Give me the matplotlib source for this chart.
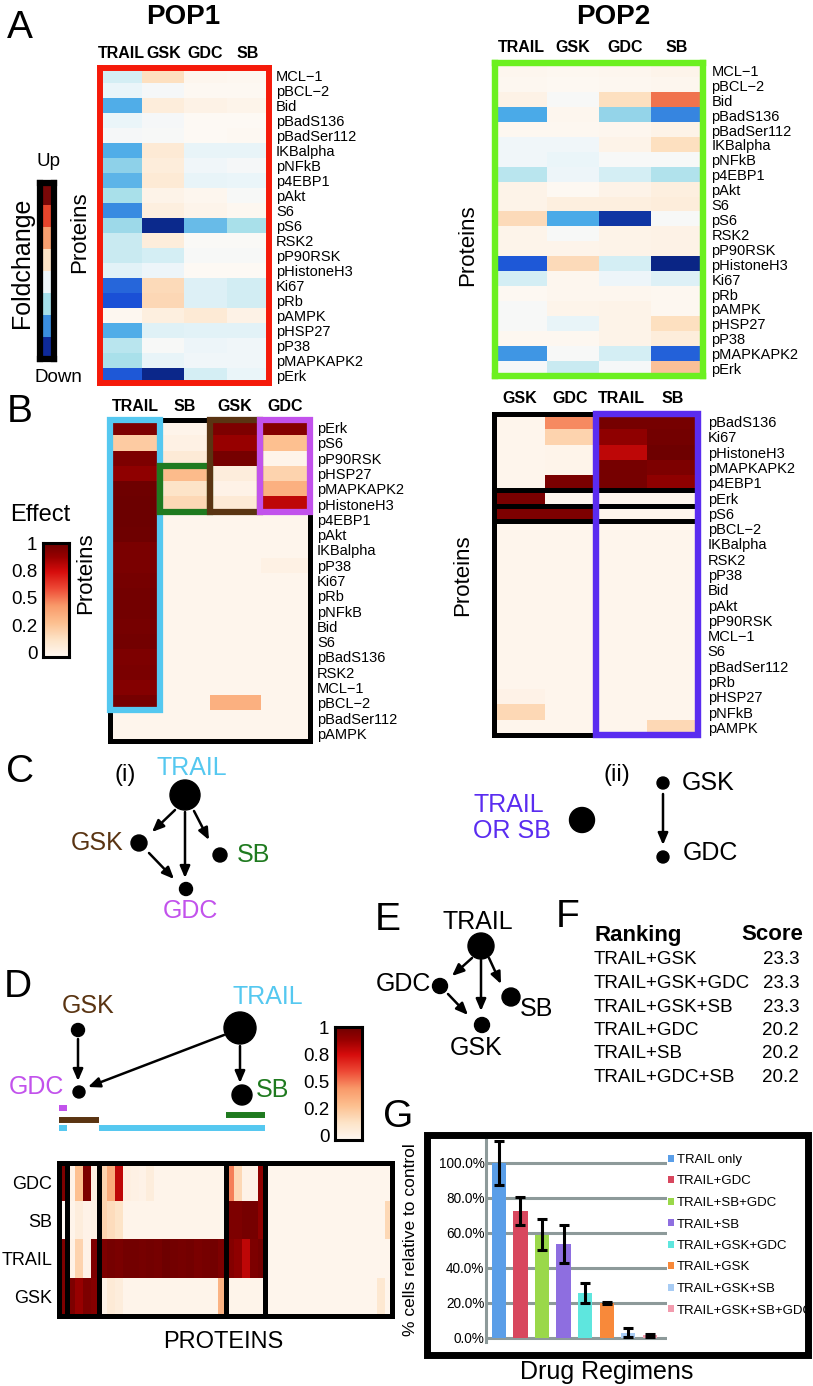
import numpy as np
import matplotlib
matplotlib.use("Agg")
import matplotlib.pyplot as plt
from matplotlib import font_manager as fm
from matplotlib.colors import LinearSegmentedColormap, ListedColormap
from matplotlib.patches import Rectangle, Circle

# ---------------- data ----------------
drugs_a = ["TRAIL", "GSK", "GDC", "SB"]
proteins_a = ["MCL\u22121", "pBCL\u22122", "Bid", "pBadS136", "pBadSer112", "IKBalpha",
              "pNFkB", "p4EBP1", "pAkt", "S6", "pS6", "RSK2", "pP90RSK", "pHistoneH3",
              "Ki67", "pRb", "pAMPK", "pHSP27", "pP38", "pMAPKAPK2", "pErk"]

fold_pop1 = [[-0.12, 0.20, 0.03, 0.02], [-0.06, -0.03, 0.01, 0.01], [-0.48, 0.10, 0.06, 0.04],
             [-0.06, -0.03, 0.00, 0.00], [-0.03, -0.02, 0.00, 0.01], [-0.48, 0.12, -0.07, -0.07],
             [-0.32, 0.10, -0.04, -0.03], [-0.45, 0.12, -0.07, -0.06], [-0.25, 0.05, 0.03, -0.02],
             [-0.58, 0.08, 0.04, 0.02], [-0.28, -0.97, -0.42, -0.25], [-0.15, 0.10, -0.01, -0.01],
             [-0.15, -0.12, -0.02, -0.02], [-0.08, -0.05, 0.00, 0.00], [-0.68, 0.22, -0.10, -0.13],
             [-0.75, 0.24, -0.10, -0.13], [0.02, 0.08, 0.12, 0.06], [-0.48, -0.09, -0.08, -0.08],
             [-0.20, -0.02, -0.05, -0.04], [-0.25, -0.07, -0.04, -0.04], [-0.72, -0.98, -0.12, -0.06]]

fold_pop2 = [[0.03, 0.02, 0.03, 0.04], [0.02, 0.01, 0.02, 0.03], [0.06, -0.02, 0.20, 0.62],
             [-0.50, 0.03, -0.30, -0.60], [0.02, 0.02, 0.03, 0.05], [-0.04, -0.04, 0.05, 0.20],
             [-0.04, -0.06, -0.02, -0.02], [-0.20, -0.05, -0.12, -0.22], [0.05, 0.01, 0.05, 0.08],
             [0.05, 0.08, 0.08, 0.10], [0.22, -0.50, -0.90, -0.02], [0.04, -0.02, 0.05, 0.06],
             [0.04, 0.04, 0.05, 0.06], [-0.72, 0.22, -0.12, -1.00], [-0.12, 0.03, -0.05, -0.10],
             [0.01, 0.03, 0.03, 0.02], [-0.02, 0.04, 0.05, 0.02], [-0.02, -0.07, 0.05, 0.20],
             [0.02, 0.02, 0.05, 0.10], [-0.55, -0.02, -0.12, -0.70], [-0.03, -0.15, -0.03, 0.35]]

drugs_b1 = ["TRAIL", "SB", "GSK", "GDC"]
proteins_b1 = ["pErk", "pS6", "pP90RSK", "pHSP27", "pMAPKAPK2", "pHistoneH3", "p4EBP1", "pAkt",
               "IKBalpha", "pP38", "Ki67", "pRb", "pNFkB", "Bid", "S6", "pBadS136", "RSK2",
               "MCL\u22121", "pBCL\u22122", "pBadSer112", "pAMPK"]
effect_pop1 = [[0.95, 0.03, 0.95, 0.93], [0.25, 0.05, 0.88, 0.30], [0.95, 0.10, 0.97, 0.03],
               [0.90, 0.32, 0.08, 0.22], [0.99, 0.15, 0.04, 0.36], [1.00, 0.20, 0.10, 0.80],
               [1.00, 0.02, 0.02, 0.02], [0.99, 0.02, 0.02, 0.02], [0.96, 0.02, 0.02, 0.02],
               [0.96, 0.02, 0.02, 0.05], [0.97, 0.02, 0.02, 0.02], [0.98, 0.02, 0.02, 0.02],
               [0.98, 0.02, 0.02, 0.02], [0.97, 0.02, 0.02, 0.02], [0.98, 0.02, 0.02, 0.02],
               [0.95, 0.02, 0.02, 0.02], [0.96, 0.02, 0.02, 0.02], [0.93, 0.02, 0.02, 0.02],
               [0.97, 0.02, 0.36, 0.02], [0.02, 0.02, 0.02, 0.02], [0.02, 0.02, 0.02, 0.02]]

drugs_b2 = ["GSK", "GDC", "TRAIL", "SB"]
proteins_b2 = ["pBadS136", "Ki67", "pHistoneH3", "pMAPKAPK2", "p4EBP1", "pErk", "pS6",
               "pBCL\u22122", "IKBalpha", "RSK2", "pP38", "Bid", "pAkt", "pP90RSK", "MCL\u22121",
               "S6", "pBadSer112", "pRb", "pHSP27", "pNFkB", "pAMPK"]
effect_pop2 = [[0.02, 0.48, 0.97, 0.97], [0.02, 0.22, 0.90, 0.98], [0.02, 0.03, 0.80, 0.99],
               [0.02, 0.03, 0.97, 0.95], [0.02, 0.96, 0.97, 0.90], [0.96, 0.02, 0.02, 0.02],
               [0.95, 0.95, 0.02, 0.02], [0.02, 0.02, 0.02, 0.02], [0.02, 0.02, 0.02, 0.02],
               [0.02, 0.02, 0.02, 0.02], [0.02, 0.02, 0.02, 0.02], [0.02, 0.02, 0.02, 0.02],
               [0.02, 0.02, 0.02, 0.02], [0.02, 0.02, 0.02, 0.02], [0.02, 0.02, 0.02, 0.02],
               [0.02, 0.02, 0.02, 0.02], [0.02, 0.02, 0.02, 0.02], [0.02, 0.02, 0.02, 0.02],
               [0.04, 0.02, 0.02, 0.02], [0.20, 0.02, 0.02, 0.02], [0.02, 0.02, 0.02, 0.20]]

# panel D: 42 protein columns, split in blocks
drugs_d = ["GDC", "SB", "TRAIL", "GSK"]
effect_d_gdc = ([0.95] + [0.04, 0.30, 0.95, 0.05]
                + [0.22, 0.38, 0.80, 0.06, 0.05, 0.04, 0.08, 0.03, 0.03, 0.03, 0.03, 0.03, 0.03, 0.03, 0.03, 0.03]
                + [0.50, 0.20, 0.04, 0.04, 0.90] + [0.02] * 16)
effect_d_sb = ([0.0] + [0.03, 0.08, 0.04, 0.05]
               + [0.22, 0.18, 0.15] + [0.03] * 13
               + [0.95, 0.95, 0.97, 0.97, 0.90] + [0.02] * 15 + [0.20])
effect_d_trail = ([0.95] + [0.04, 0.22, 0.04, 0.95]
                  + [0.95, 0.97, 0.96, 0.98, 0.98, 0.97, 0.98, 0.97, 0.99, 0.98, 0.97, 0.98, 0.96, 0.97, 0.98, 0.95]
                  + [0.93, 0.90, 0.80, 0.95, 0.97] + [0.02] * 16)
effect_d_gsk = ([0.95] + [0.95, 0.88, 0.95, 0.93]
                + [0.04, 0.10, 0.08] + [0.03] * 12 + [0.35]
                + [0.03] * 5 + [0.02] * 14 + [0.12, 0.02])
d_block_edges = [0.5, 4.5, 20.5, 25.5]
d_groups = [("GDC", [(0, 0)]), ("GSK", [(0, 4)]), ("SB", [(21, 25)]), ("TRAIL", [(0, 0), (5, 25)])]

effect_ticks = ["0", "0.2", "0.5", "0.8", "1"]

rank_combos = ["TRAIL+GSK", "TRAIL+GSK+GDC", "TRAIL+GSK+SB", "TRAIL+GDC", "TRAIL+SB", "TRAIL+GDC+SB"]
rank_scores = [23.3, 23.3, 23.3, 20.2, 20.2, 20.2]

regimens = ["TRAIL only", "TRAIL+GDC", "TRAIL+SB+GDC", "TRAIL+SB", "TRAIL+GSK+GDC",
            "TRAIL+GSK", "TRAIL+GSK+SB", "TRAIL+GSK+SB+GDC"]
pct_cells = [100, 72.6, 58.9, 53.7, 25.7, 20, 3, 1.5]
pct_err = [12.5, 8, 8.8, 11, 5.7, 0.8, 2.6, 1.0]

# ---------------- style ----------------
W, H = 813, 1386
plt.rcParams["font.family"] = ["Liberation Sans", "DejaVu Sans"]
_names = {f.name for f in fm.fontManager.ttflist}
if "Liberation Sans Narrow" in _names:
    NARROW, NS = ["Liberation Sans Narrow", "DejaVu Sans"], 1.2
else:
    NARROW, NS = ["Liberation Sans", "DejaVu Sans"], 1.0

CYAN, BROWN, GREEN, MAGENTA = "#55c8f0", "#5a3412", "#1f7a1f", "#c252ec"
PURPLE = "#5a2cf0"
fold_cmap = LinearSegmentedColormap.from_list(
    "fold", [(0.0, "#0a2585"), (0.125, "#1a50d6"), (0.25, "#4aaae8"), (0.375, "#a8e0ea"),
             (0.475, "#eef6fa"), (0.5, "#fefaf6"), (0.6, "#fde0c0"), (0.75, "#f8a070"),
             (0.875, "#e8452c"), (1.0, "#7a0808")])
fold_bins = ["#0e2a9a", "#3a8ee0", "#a5dfea", "#eef6fa", "#fde3c6", "#f8a070", "#e8452c", "#7a0808"]
effect_cmap = LinearSegmentedColormap.from_list(
    "effect", [(0.0, "#fff8f2"), (0.15, "#fde4c8"), (0.3, "#fdc090"), (0.45, "#f99a6a"),
               (0.6, "#ee4a36"), (0.75, "#d60c0c"), (0.88, "#980000"), (1.0, "#6c0000")])
bar_colors = ["#5a9ee8", "#d8475e", "#9ad84a", "#8e6ee0", "#5ee6de", "#f8893a", "#a8ccf4", "#f29cae"]

fig = plt.figure(figsize=(W / 100, H / 100), dpi=100)


def px_axes(x0, y0, x1, y1):
    return fig.add_axes([x0 / W, 1 - y1 / H, (x1 - x0) / W, (y1 - y0) / H])


ov = px_axes(0, 0, W, H)
ov.set_xlim(0, W)
ov.set_ylim(H, 0)
ov.axis("off")
ov.set_zorder(10)


def txt(x, y, s, size, **kw):
    kw.setdefault("ha", "center")
    kw.setdefault("va", "center")
    ov.text(x, y, s, fontsize=size, **kw)


def heatmap(box, vals, cmap, vmin, vmax, cols, rows, edge, lw, head_pad, lab_pad):
    ax = px_axes(*box)
    ax.imshow(np.array(vals), cmap=cmap, vmin=vmin, vmax=vmax, aspect="auto", interpolation="nearest")
    ax.set_xticks(range(len(cols)))
    ax.set_xticklabels(cols, fontsize=11.5 * NS, fontweight="bold", fontfamily=NARROW)
    ax.xaxis.tick_top()
    ax.set_yticks(range(len(rows)))
    ax.set_yticklabels(rows, fontsize=10.5 * NS, fontfamily=NARROW)
    ax.yaxis.tick_right()
    ax.tick_params(axis="x", length=0, pad=head_pad)
    ax.tick_params(axis="y", length=0, pad=lab_pad)
    for s in ax.spines.values():
        s.set_color(edge)
        s.set_linewidth(lw)
    return ax


def effect_bar(box):
    ax = px_axes(*box)
    ax.imshow(np.linspace(1, 0, 256)[:, None], cmap=effect_cmap, aspect="auto", extent=(0, 1, 0, 1))
    ax.set_xticks([])
    ax.set_yticks([0.04, 0.28, 0.52, 0.76, 1.0])
    ax.set_yticklabels(effect_ticks, fontsize=13.5)
    ax.tick_params(length=0, pad=4)
    for s in ax.spines.values():
        s.set_linewidth(2.2)
    return ax


def node(x, y, d):
    ov.add_patch(Circle((x, y), d / 2, color="k", zorder=5))


def arrow(p0, p1):
    ov.annotate("", xy=p1, xytext=p0, zorder=4,
                arrowprops=dict(arrowstyle="-|>,head_length=0.7,head_width=0.3",
                                color="k", lw=1.8, shrinkA=0, shrinkB=0))


# ---------------- panel A ----------------
heatmap((100, 68, 269, 383), fold_pop1, fold_cmap, -1, 1, drugs_a, proteins_a,
        "#f51a0a", 4.3, 5, 5)
heatmap((495, 63, 703, 376), fold_pop2, fold_cmap, -1, 1, drugs_a, proteins_a,
        "#6cf020", 4.6, 6, 6)

cb = px_axes(40, 183, 54, 359)
cb.imshow(np.arange(len(fold_bins))[::-1, None], cmap=ListedColormap(fold_bins), aspect="auto")
cb.set_xticks([])
cb.set_yticks([])
for s in cb.spines.values():
    s.set_linewidth(4.5)

txt(20, 28, "A", 28)
txt(183, 17, "POP1", 20, fontweight="bold")
txt(613, 17, "POP2", 20, fontweight="bold")
txt(48, 161, "Up", 13.5 * NS, fontfamily=NARROW)
txt(58, 378, "Down", 13.5 * NS, fontfamily=NARROW)
txt(22, 263, "Foldchange", 18, rotation=90)
txt(80, 232, "Proteins", 16, rotation=90)
txt(468, 245, "Proteins", 16, rotation=90)

# ---------------- panel B ----------------
ax_b1 = heatmap((110, 420, 310, 741), effect_pop1, effect_cmap, 0, 1, drugs_b1, proteins_b1,
                "k", 3.6, 4, 5)
for c0, c1, r0, r1, col in [(0, 0, 0, 18, CYAN), (1, 1, 3, 5, GREEN), (2, 2, 0, 5, BROWN), (3, 3, 0, 5, MAGENTA)]:
    ax_b1.add_patch(Rectangle((c0 - 0.5, r0 - 0.5), c1 - c0 + 1, r1 - r0 + 1, fill=False,
                              ec=col, lw=4.5, clip_on=False, zorder=5))

ax_b2 = heatmap((494, 414, 698, 735), effect_pop2, effect_cmap, 0, 1, drugs_b2, proteins_b2,
                "k", 3.6, 6, 7)
for yb in [4.5, 5.5, 6.5]:
    ax_b2.axhline(yb, color="k", lw=3.6, zorder=4)
ax_b2.add_patch(Rectangle((1.5, -0.5), 2, len(proteins_b2), fill=False, ec=PURPLE, lw=4.6,
                          clip_on=False, zorder=5))

effect_bar((43, 543, 69, 657))
txt(20, 412, "B", 28)
txt(40, 515, "Effect", 17)
txt(86, 573, "Proteins", 16, rotation=90)
txt(463, 575, "Proteins", 16, rotation=90)

# ---------------- panel C ----------------
txt(20, 772, "C", 28)
txt(125, 775, "(i)", 17)
txt(192, 768, "TRAIL", 18, color=CYAN)
txt(97, 843, "GSK", 18, color=BROWN)
txt(253, 855, "SB", 18, color=GREEN)
txt(190, 911, "GDC", 18, color=MAGENTA)
for x, y, d in [(185, 795, 30), (139, 843, 16), (220, 855, 14), (186, 889, 13)]:
    node(x, y, d)
arrow((175, 810), (152, 832))
arrow((185, 812), (185, 878))
arrow((194, 811), (209, 840))
arrow((149, 853), (174, 879))

txt(617, 775, "(ii)", 17)
txt(708, 783, "GSK", 18)
txt(710, 853, "GDC", 18)
txt(473, 818, "TRAIL\nOR SB", 18, ha="left", color=PURPLE, linespacing=1.15)
for x, y, d in [(663, 783, 12), (663, 857, 12), (582, 820, 25)]:
    node(x, y, d)
arrow((663, 794), (663, 845))

# ---------------- panel E ----------------
txt(388, 920, "E", 28)
txt(478, 922, "TRAIL", 18)
txt(403, 984, "GDC", 18)
txt(536, 1009, "SB", 18)
txt(476, 1048, "GSK", 18)
for x, y, d in [(481, 946, 26), (440, 986, 15), (511, 997, 18), (482, 1025, 15)]:
    node(x, y, d)
arrow((472, 958), (452, 976))
arrow((481, 960), (481, 1011))
arrow((489, 958), (501, 984))
arrow((448, 994), (468, 1015))

# ---------------- panel F ----------------
txt(568, 917, "F", 28)
txt(594, 935, "Ranking", 16, ha="left", fontweight="bold")
txt(803, 935, "Score", 16, ha="right", fontweight="bold")
for i, (combo, score) in enumerate(zip(rank_combos, rank_scores)):
    yy = 960 + 23.5 * i
    txt(594, yy, combo, 13.5, ha="left")
    txt(799, yy, f"{score:.1f}", 13.5, ha="right")

# ---------------- panel D ----------------
txt(18, 987, "D", 28)
txt(88, 1006, "GSK", 18, color=BROWN)
txt(268, 997, "TRAIL", 18, color=CYAN)
txt(36, 1087, "GDC", 18, color=MAGENTA)
txt(272, 1090, "SB", 18, color=GREEN)
for x, y, d in [(78, 1030, 13), (240, 1028, 32), (79, 1092, 12), (242, 1095, 20)]:
    node(x, y, d)
arrow((78, 1039), (78, 1081))
arrow((224, 1035), (88, 1087))
arrow((240, 1046), (240, 1083))

effect_bar((335, 1027, 362, 1140))

n_cols_d = len(effect_d_gdc)
ax_lab = px_axes(59, 1100, 392, 1135)
ax_lab.set_xlim(-0.5, n_cols_d - 0.5)
ax_lab.set_ylim(1135, 1100)
ax_lab.axis("off")
group_y = {"GDC": 1108, "GSK": 1119.5, "SB": 1115, "TRAIL": 1128}
group_col = {"GDC": MAGENTA, "GSK": BROWN, "SB": GREEN, "TRAIL": CYAN}
for name, spans in d_groups:
    for a, b in spans:
        ax_lab.plot([a - 0.5, b + 0.5], [group_y[name]] * 2, color=group_col[name], lw=4.3,
                    solid_capstyle="butt")

ax_d = px_axes(59, 1163, 392, 1316)
ax_d.imshow(np.array([effect_d_gdc, effect_d_sb, effect_d_trail, effect_d_gsk]), cmap=effect_cmap,
            vmin=0, vmax=1, aspect="auto", interpolation="nearest")
for xb in d_block_edges:
    ax_d.axvline(xb, color="k", lw=3.6)
ax_d.set_xticks([])
ax_d.set_yticks(range(len(drugs_d)))
ax_d.set_yticklabels(drugs_d, fontsize=13)
ax_d.tick_params(length=0, pad=5)
for s in ax_d.spines.values():
    s.set_linewidth(3.6)
txt(223, 1342, "PROTEINS", 17)

# ---------------- panel G ----------------
txt(398, 1117, "G", 28)
ax_g = px_axes(486, 1140, 667, 1342)
xg = np.arange(len(regimens))
bars = ax_g.bar(xg, pct_cells, width=0.66, color=bar_colors, zorder=3)
ax_g.errorbar(xg, pct_cells, yerr=pct_err, fmt="none", ecolor="k", elinewidth=2.2,
              capsize=3.5, capthick=2.2, zorder=4)
ax_g.set_xlim(-0.6, 7.8)
ax_g.set_ylim(-2.3, 113)
ax_g.set_yticks(range(0, 101, 20))
ax_g.set_yticklabels([f"{v:.1f}%" for v in range(0, 101, 20)], fontsize=9.8 * NS, fontfamily=NARROW)
ax_g.yaxis.grid(True, color="#8d9a9a", lw=2.2)
ax_g.set_axisbelow(True)
ax_g.set_xticks([])
ax_g.tick_params(length=0, pad=1)
for k in ["top", "right", "bottom"]:
    ax_g.spines[k].set_visible(False)
ax_g.spines["left"].set_color("#8d9a9a")
ax_g.spines["left"].set_linewidth(2.2)
fig.legend(bars, regimens, loc="upper left", bbox_to_anchor=(668 / W, 1 - 1154 / H),
           frameon=False, prop={"family": NARROW, "size": 9.5 * NS}, handlelength=0.45,
           handleheight=0.45, handletextpad=0.2, labelspacing=0.72, borderpad=0,
           borderaxespad=0)
ov.add_patch(Rectangle((427, 1135), 381, 220, fill=False, ec="k", lw=5, zorder=6))
txt(410, 1240, "% cells relative to control", 12.5, rotation=90)
txt(607, 1372, "Drug Regimens", 18)

fig.savefig("out.png", dpi=100)
